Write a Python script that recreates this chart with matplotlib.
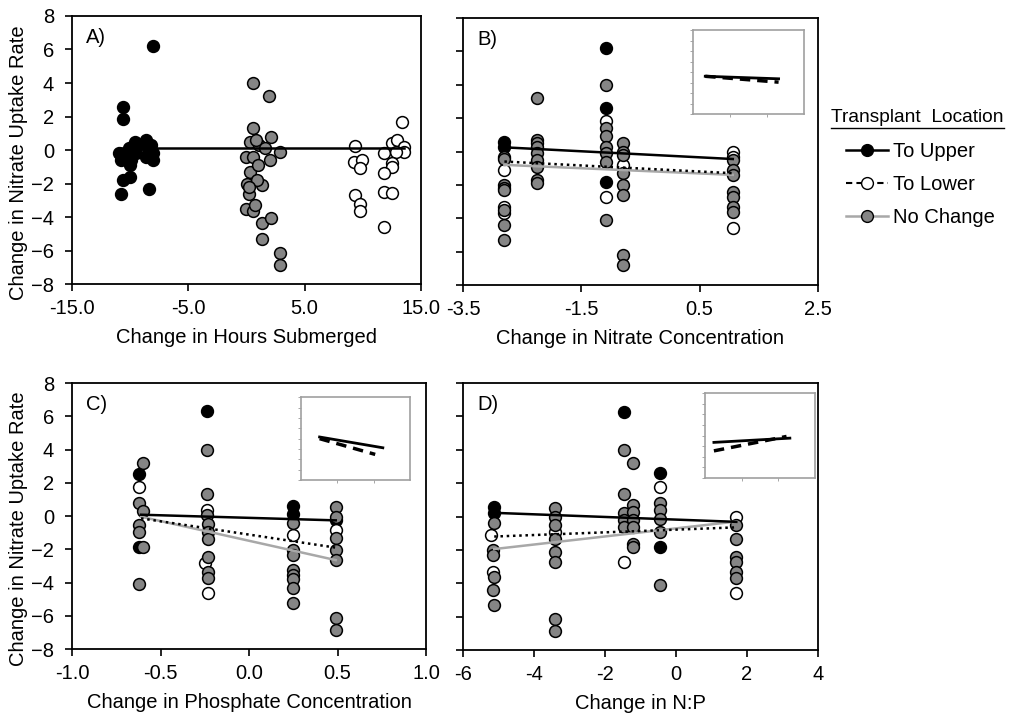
import numpy as np
import matplotlib.pyplot as plt
from matplotlib.lines import Line2D

plt.rcParams["font.family"] = ["Liberation Sans", "DejaVu Sans"]
plt.rcParams["font.size"] = 14.5

# ---- data ----
# A) change in hours submerged
a_up_x = [-8.0, -10.6, -10.6, -10.8, -10.6, -10.0, -8.4, -11.0, -10.8, -10.3, -10.1, -9.9,
          -9.7, -9.6, -9.5, -10.0, -8.6, -8.5, -8.2, -8.0, -8.6, -8.0, -9.3]
a_up_y = [6.2, 2.55, 1.85, -2.6, -1.8, -1.6, -2.3, -0.2, -0.6, -0.25, 0.1, -0.6,
          0.2, 0.5, -0.2, -0.9, 0.6, 0.1, 0.3, -0.2, -0.4, -0.6, 0.3]
a_low_x = [9.3, 9.2, 9.9, 9.75, 9.3, 9.75, 9.8, 11.85, 12.5, 12.9, 13.4, 13.5, 13.5, 12.85,
           12.5, 12.55, 11.85, 11.85, 12.55, 11.85]
a_low_y = [0.25, -0.7, -0.6, -1.1, -2.7, -3.2, -3.65, -0.15, 0.4, 0.6, 1.7, 0.2, -0.1, -0.1,
           -0.8, -1.0, -1.35, -2.5, -2.55, -4.6]
a_nc_x = [0.6, 1.9, 0.6, 2.15, 0.3, 1.1, 2.9, 2.05, 0.0, 0.6, 0.3, 0.05, 0.25, 1.3, 0.9, 0.0,
          0.6, 0.7, 1.3, 2.15, 1.3, 2.9, 2.9, 1.6, 1.0, 0.2, 0.8]
a_nc_y = [4.0, 3.2, 1.3, 0.8, 0.5, 0.3, -0.1, -0.6, -0.4, -0.4, -1.3, -2.0, -2.6, -2.1, -1.8, -3.5,
          -3.65, -3.3, -4.35, -4.05, -5.3, -6.15, -6.85, 0.1, -0.9, -2.2, 0.6]
a_fit_x = [-10.8, 13.5]
a_fit_y = [0.1, 0.1]

# B) change in nitrate concentration
b_up_x = [-2.8, -2.8, -1.08, -1.08, -1.08]
b_up_y = [0.55, 0.3, 6.2, 2.6, -1.8]
b_low_x = [-2.8, -2.8, -2.8, -1.08, -1.08, -0.79, 1.06, 1.06, 1.06]
b_low_y = [-1.1, -3.3, -3.7, 1.8, -2.7, -0.8, 0.0, -0.3, -4.6]
b_nc_x = [-2.8, -2.8, -2.8, -2.8, -2.8, -2.8, -2.8, -2.8,
          -2.25, -2.25, -2.25, -2.25, -2.25, -2.25, -2.25, -2.25, -2.25,
          -1.08, -1.08, -1.08, -1.08, -1.08, -1.08, -1.08,
          -0.79, -0.79, -0.79, -0.79, -0.79, -0.79, -0.79, -0.79,
          1.06, 1.06, 1.06, 1.06, 1.06, 1.06, 1.06]
b_nc_y = [-0.3, -0.45, -2.0, -2.2, -2.3, -3.5, -4.4, -5.3,
          3.2, 0.7, 0.5, 0.3, -0.1, -0.5, -0.9, -1.7, -1.9,
          4.0, 1.4, 0.9, 0.3, -0.1, -0.6, -4.1,
          0.5, 0.0, -0.2, -1.3, -2.0, -2.6, -6.2, -6.8,
          -0.5, -1.1, -1.4, -2.4, -2.7, -3.3, -3.6]
b_fit_x = [-2.8, 1.06]
b_fit_up = [0.25, -0.45]
b_fit_low = [-0.6, -1.3]
b_fit_nc = [-0.8, -1.4]

# C) change in phosphate concentration
c_up_x = [-0.62, -0.62, -0.24, 0.25, 0.25, 0.49]
c_up_y = [2.55, -1.85, 6.3, 0.6, 0.15, -0.25]
c_low_x = [-0.62, -0.24, -0.25, -0.23, 0.25, 0.49]
c_low_y = [1.75, 0.35, -2.8, -4.6, -1.15, -0.85]
c_nc_x = [-0.6, -0.62, -0.6, -0.62, -0.62, -0.6, -0.62,
          -0.24, -0.24, -0.24, -0.23, -0.23, -0.23, -0.23, -0.23, -0.23,
          0.25, 0.25, 0.25, 0.25, 0.25, 0.25, 0.25, 0.25,
          0.49, 0.49, 0.49, 0.49, 0.49, 0.49, 0.49]
c_nc_y = [3.2, 0.8, 0.3, -0.55, -0.95, -1.85, -4.1,
          4.0, 1.3, 0.05, -0.45, -0.95, -1.4, -2.45, -3.35, -3.7,
          -0.4, -2.05, -2.35, -3.25, -3.55, -3.8, -4.35, -5.25,
          0.55, -0.05, -1.35, -2.05, -2.65, -6.15, -6.85]
c_fit_x = [-0.61, 0.49]
c_fit_up = [0.08, -0.26]
c_fit_low = [-0.14, -1.9]
c_fit_nc = [-0.04, -2.65]

# D) change in N:P
d_up_x = [-5.12, -5.12, -1.46, -0.44, -0.44]
d_up_y = [0.55, 0.2, 6.25, 2.6, -1.85]
d_low_x = [-5.2, -5.15, -3.42, -1.46, -0.44, 1.7, 1.7]
d_low_y = [-1.1, -3.3, -0.95, -2.75, 1.75, 0.0, -4.6]
d_nc_x = [-5.12, -5.15, -5.15, -5.12, -5.15, -5.12,
          -3.42, -3.42, -3.42, -3.42, -3.42, -3.42, -3.42, -3.42,
          -1.46, -1.46, -1.46, -1.46, -1.46,
          -1.21, -1.21, -1.21, -1.21, -1.21, -1.21, -1.21,
          -0.44, -0.44, -0.44, -0.44, -0.44,
          1.7, 1.7, 1.7, 1.7, 1.7, 1.7]
d_nc_y = [-0.4, -2.0, -2.3, -3.6, -4.4, -5.3,
          0.5, 0.0, -0.5, -1.35, -2.1, -2.75, -6.15, -6.85,
          4.0, 1.35, 0.2, -0.2, -0.6,
          3.2, 0.7, 0.3, -0.2, -0.6, -1.65, -1.85,
          0.8, 0.4, -0.15, -0.9, -4.1,
          -0.5, -1.35, -2.4, -2.7, -3.35, -3.7]
d_fit_x = [-5.12, 1.7]
d_fit_up = [0.22, -0.32]
d_fit_low = [-1.2, -0.65]
d_fit_nc = [-1.95, -0.3]

# insets (unitless sketch of the fitted lines)
b_ins_x = [0.11, 0.77]
b_ins_solid = [0.45, 0.42]
b_ins_dash = [0.45, 0.38]
c_ins_x = [0.17, 0.75]
c_ins_solid = [0.52, 0.39]
c_ins_dash_x = [0.17, 0.68]
c_ins_dash = [0.50, 0.31]
d_ins_x = [0.08, 0.77]
d_ins_solid = [0.42, 0.47]
d_ins_dash_x = [0.08, 0.74]
d_ins_dash = [0.32, 0.49]

GRAY = "#858585"
LGRAY = "#a8a8a8"
MS = 8.5


def draw_panel(ax, up, low, nc, fits, letter, xlim, xticks, xfmt, xlabel, ylabels):
    ax.plot(up[0], up[1], 'o', ms=MS, mfc='black', mec='black', mew=1.1, ls='none', zorder=3)
    ax.plot(low[0], low[1], 'o', ms=MS, mfc='white', mec='black', mew=1.1, ls='none', zorder=3)
    ax.plot(nc[0], nc[1], 'o', ms=MS, mfc=GRAY, mec='black', mew=1.1, ls='none', zorder=3)
    for fx, fy, col, ls in fits:
        ax.plot(fx, fy, color=col, ls=ls, lw=1.8, zorder=4)
    ax.set_xlim(xlim)
    ax.set_ylim(-8, 8)
    ax.set_xticks(xticks)
    ax.set_xticklabels([xfmt.format(v) for v in xticks])
    ax.set_yticks(np.arange(-8, 9, 2))
    if not ylabels:
        ax.set_yticklabels([])
    ax.tick_params(axis='x', direction='out', length=5, width=1.2, pad=6)
    ax.tick_params(axis='y', direction='out', length=5, width=1.2, pad=8)
    ax.tick_params(top=False, right=False)
    for s in ax.spines.values():
        s.set_linewidth(1.3)
    ax.set_xlabel(xlabel, labelpad=7)
    if ylabels:
        ax.set_ylabel("Change in Nitrate Uptake Rate")
        ax.yaxis.set_label_coords(-0.125, 0.452)
    ax.text(0.04, 0.92, letter, transform=ax.transAxes, ha='left', va='center')


def draw_inset(ax, rect, xs, ys_solid, xd, ys_dash):
    ins = ax.inset_axes(rect)
    ins.plot(xs, ys_solid, color='black', lw=2)
    ins.plot(xd, ys_dash, color='black', lw=2.5, ls=(0, (3, 2)))
    ins.set_xlim(0, 1)
    ins.set_ylim(0, 1)
    ins.set_xticks([1 / 3, 2 / 3])
    ins.set_yticks(np.linspace(0, 1, 9))
    ins.set_xticklabels([])
    ins.set_yticklabels([])
    ins.tick_params(length=2, width=0.6, color='#999999')
    for s in ins.spines.values():
        s.set_color('#a0a0a0')
        s.set_linewidth(1.2)


fig = plt.figure(figsize=(10.1, 7.14), dpi=100)
axA = fig.add_axes([0.0713, 0.6022, 0.3455, 0.3754])
axB = fig.add_axes([0.4584, 0.6008, 0.3515, 0.3740])
axC = fig.add_axes([0.0713, 0.0910, 0.3505, 0.3725])
axD = fig.add_axes([0.4584, 0.0896, 0.3515, 0.3740])

draw_panel(axA, (a_up_x, a_up_y), (a_low_x, a_low_y), (a_nc_x, a_nc_y),
           [(a_fit_x, a_fit_y, 'black', '-')], "A)",
           (-15, 15), [-15, -5, 5, 15], "{:.1f}", "Change in Hours Submerged", True)
draw_panel(axB, (b_up_x, b_up_y), (b_low_x, b_low_y), (b_nc_x, b_nc_y),
           [(b_fit_x, b_fit_nc, LGRAY, '-'), (b_fit_x, b_fit_low, 'black', (0, (1, 1.5))),
            (b_fit_x, b_fit_up, 'black', '-')], "B)",
           (-3.5, 2.5), [-3.5, -1.5, 0.5, 2.5], "{:.1f}", "Change in Nitrate Concentration", False)
draw_panel(axC, (c_up_x, c_up_y), (c_low_x, c_low_y), (c_nc_x, c_nc_y),
           [(c_fit_x, c_fit_nc, LGRAY, '-'), (c_fit_x, c_fit_low, 'black', (0, (1, 1.5))),
            (c_fit_x, c_fit_up, 'black', '-')], "C)",
           (-1.0, 1.0), [-1.0, -0.5, 0.0, 0.5, 1.0], "{:.1f}", "Change in Phosphate Concentration", True)
draw_panel(axD, (d_up_x, d_up_y), (d_low_x, d_low_y), (d_nc_x, d_nc_y),
           [(d_fit_x, d_fit_nc, LGRAY, '-'), (d_fit_x, d_fit_low, 'black', (0, (1, 1.5))),
            (d_fit_x, d_fit_up, 'black', '-')], "D)",
           (-6, 4), [-6, -4, -2, 0, 2, 4], "{:.0f}", "Change in N:P", False)

draw_inset(axB, [0.648, 0.640, 0.313, 0.315], b_ins_x, b_ins_solid, b_ins_x, b_ins_dash)
draw_inset(axC, [0.647, 0.635, 0.308, 0.312], c_ins_x, c_ins_solid, c_ins_dash_x, c_ins_dash)
draw_inset(axD, [0.682, 0.644, 0.310, 0.318], d_ins_x, d_ins_solid, d_ins_dash_x, d_ins_dash)

# legend
handles = [
    Line2D([], [], color='black', lw=1.8, marker='o', ms=MS, mfc='black', mec='black'),
    Line2D([], [], color='black', lw=1.5, ls=(0, (3, 2)), marker='o', ms=MS, mfc='white', mec='black'),
    Line2D([], [], color=LGRAY, lw=1.8, marker='o', ms=MS, mfc=GRAY, mec='black'),
]
fig.legend(handles, ["To Upper", "To Lower", "No Change"], loc='upper left',
           bbox_to_anchor=(0.8376, 0.801), frameon=False, handlelength=2.1,
           handletextpad=0.25, labelspacing=0.7, borderpad=0, borderaxespad=0)
fig.text(0.8228, 0.836, "Transplant  Location", ha='left', va='center', fontsize=13.8)
fig.add_artist(Line2D([0.8228, 0.994], [0.821, 0.821], color='black', lw=1,
                      transform=fig.transFigure))

fig.savefig("out.png", dpi=100)
